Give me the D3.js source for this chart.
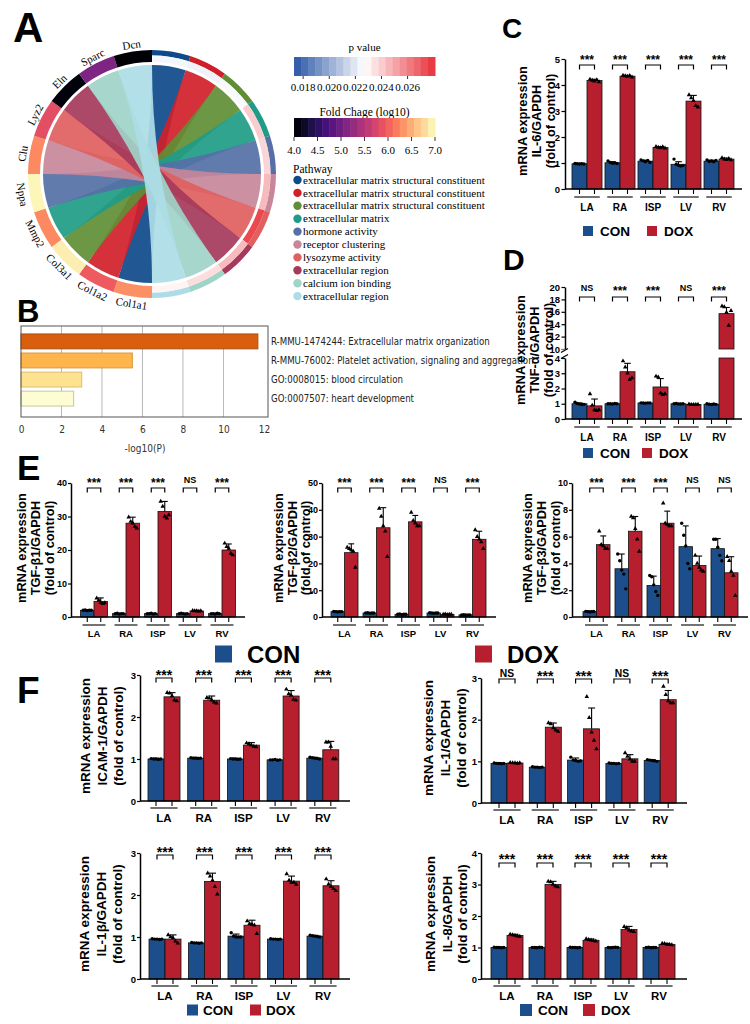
<!DOCTYPE html>
<html><head><meta charset="utf-8">
<script src="https://cdn.jsdelivr.net/npm/d3@7"></script>
<style>body{margin:0;background:#fff} svg{display:block}</style>
</head><body>
<svg id="fig" width="750" height="1024"></svg>
<script>
// ---------------- DATA ----------------
// Panel A (chord)
const genes = ["Col1a1","Col1a2","Col3a1","Mmp2","Nppa","Clu","Lyz2","Eln","Sparc","Dcn"];
const geneFC = [6.3,5.95,6.9,6.25,6.95,6.25,5.85,4.08,5.1,4.02];
const pathwayNames = ["extracellular matrix structural constituent","extracellular matrix structural constituent","extracellular matrix structural constituent","extracellular matrix","hormone activity","receptor clustering","lysozyme activity","extracellular region","calcium ion binding","extracellular region"];
const pathwayP = [0.0224,0.0223,0.0225,0.0240,0.0238,0.0245,0.0275,0.0245,0.0236,0.0230];
const geneLinks = [0,1,2,3,4,5,6,7,8,9];
const fcTicks = [4.0,4.5,5.0,5.5,6.0,6.5,7.0];
const pTicks = [0.018,0.020,0.022,0.024,0.026];
// Panel B
const bTerms = ["R-MMU-1474244: Extracellular matrix organization","R-MMU-76002: Platelet activation, signaling and aggregation","GO:0008015: blood circulation","GO:0007507: heart development"];
const bValues = [11.7,5.5,3.0,2.6];
const bTicks = [0,2,4,6,8,10,12];
// Bar charts
const tissues = ["LA","RA","ISP","LV","RV"];
const groupNames = ["CON","DOX"];
// C IL-6
const il6Con = [0.97,1.01,1.07,0.95,1.07];
const il6ConErr = [0.02,0.04,0.04,0.1,0.04];
const il6Dox = [4.17,4.34,1.6,3.38,1.15];
const il6DoxErr = [0.05,0.03,0.03,0.22,0.04];
const il6ConPts = [[0.98,0.97,0.96,0.97,0.96],[1.08,1.02,0.99,1.0,0.98],[1.12,1.08,1.05,1.1,1.02],[1.15,0.95,0.9,0.88,0.9],[1.12,1.06,1.08,1.05,1.1]];
const il6DoxPts = [[4.22,4.18,4.15,4.2,4.12],[4.37,4.35,4.33,4.36,4.3],[1.63,1.6,1.58,1.62,1.57],[3.62,3.5,3.4,3.2,3.15],[1.2,1.15,1.13,1.17,1.12]];
const il6Sig = ["***","***","***","***","***"];
const il6Ticks = [0,1,2,3,4,5];
// D TNF-a (broken axis)
const tnfCon = [1.0,1.0,1.05,1.0,0.97];
const tnfConErr = [0.05,0.02,0.03,0.03,0.04];
const tnfDox = [0.86,3.1,2.1,0.95,15.7];
const tnfDoxErr = [0.45,0.55,0.55,0.03,1.0];
const tnfConPts = [[1.1,1.02,0.98,0.95,0.96],[1.0,1.0,0.98,1.02,1.0],[1.06,1.05,1.04,1.06,1.05],[1.0,1.02,0.99,0.98,1.0],[1.0,0.97,0.95,0.98,0.96]];
const tnfDoxPts = [[1.65,0.9,0.6,0.55,0.6],[3.8,3.4,3.0,2.6,2.7],[2.8,2.75,1.7,1.6,1.65],[0.97,0.95,0.94,0.95,0.96],[16.9,16.8,15.9,13.8,16.2]];
const tnfSig = ["NS","***","***","NS","***"];
const tnfLowTicks = [0,1,2,3,4];
const tnfHighTicks = [10,12,14,16,18,20];
// E1 TGF-b1
const tgf1Con = [2.0,1.0,1.0,1.0,1.0];
const tgf1ConErr = [0.1,0.05,0.05,0.05,0.05];
const tgf1Dox = [4.6,28,31.5,1.8,20];
const tgf1DoxErr = [1.1,1.8,3.0,0.15,1.8];
const tgf1ConPts = [[2.0,2.1,1.9,2.0,2.0],[1.0,1.1,0.9,1.0,1.0],[1.0,1.0,1.1,0.9,1.0],[1.0,1.1,1.0,0.9,1.0],[1.0,1.0,0.9,1.1,1.0]];
const tgf1DoxPts = [[5.6,5.0,4.3,4.0,4.2],[29.8,28.5,28,27,26.5],[34.5,33,30,29.5,30.5],[1.9,1.8,1.8,1.7,1.8],[22,21,20.5,19,18.5]];
const tgf1Sig = ["***","***","***","NS","***"];
const tgf1Ticks = [0,10,20,30,40];
// E2 TGF-b2
const tgf2Con = [2.0,1.5,1.0,1.5,0.8];
const tgf2ConErr = [0.2,0.1,0.1,0.15,0.05];
const tgf2Dox = [24,33.3,35.5,1.0,29];
const tgf2DoxErr = [3.3,7.5,2.4,0.1,3.0];
const tgf2ConPts = [[2.1,2.0,1.9,2.0,2.0],[1.5,1.6,1.4,1.5,1.5],[1.0,1.1,0.9,1.0,1.0],[1.6,1.5,1.4,1.5,1.5],[0.8,0.85,0.75,0.8,0.8]];
const tgf2DoxPts = [[26,25.5,25,24.5,18.5],[40.5,37.5,34,32,22.5],[39,36,35,34,34],[1.0,1.1,0.9,1.0,1.0],[32.5,30,29,28,25.5]];
const tgf2Sig = ["***","***","***","NS","***"];
const tgf2Ticks = [0,10,20,30,40,50];
// E3 TGF-b3
const tgf3Con = [0.4,3.6,2.35,5.25,5.1];
const tgf3ConErr = [0.05,1.1,0.7,1.55,0.75];
const tgf3Dox = [5.4,6.4,7.0,3.85,3.3];
const tgf3DoxErr = [0.65,1.1,0.9,0.7,1.2];
const tgf3ConPts = [[0.42,0.4,0.38,0.4,0.41],[4.7,4.2,3.5,3.2,2.1],[3.1,3.0,2.4,1.9,1.6],[7.0,6.1,5.3,4.0,3.6],[5.8,5.8,5.2,4.6,4.2]];
const tgf3DoxPts = [[6.4,5.4,5.3,5.1,5.1],[7.5,7.4,6.6,5.8,4.9],[8.5,7.0,6.9,6.8,6.8],[4.6,4.0,3.7,3.5,3.4],[4.5,4.2,3.4,3.1,1.6]];
const tgf3Sig = ["***","***","***","NS","NS"];
const tgf3Ticks = [0,2,4,6,8,10];
// F1 ICAM-1
const icamCon = [1.0,1.02,1.0,0.98,1.02];
const icamConErr = [0.02,0.02,0.02,0.01,0.02];
const icamDox = [2.48,2.4,1.33,2.5,1.22];
const icamDoxErr = [0.1,0.1,0.06,0.13,0.2];
const icamConPts = [[1.01,1.0,1.0,0.99,1.0],[1.03,1.02,1.02,1.01,1.02],[1.01,1.0,1.0,0.99,1.0],[0.98,0.98,0.99,0.97,0.98],[1.04,1.03,1.02,1.01,1.0]];
const icamDoxPts = [[2.58,2.57,2.5,2.4,2.38],[2.46,2.45,2.4,2.35,2.33],[1.38,1.36,1.33,1.3,1.29],[2.66,2.55,2.52,2.42,2.4],[1.4,1.4,1.3,1.0,1.0]];
const icamSig = ["***","***","***","***","***"];
const icamTicks = [0,1,2,3];
// F2 IL-1
const il1Con = [0.95,0.86,1.03,0.95,1.02];
const il1ConErr = [0.02,0.01,0.05,0.01,0.02];
const il1Dox = [0.96,1.82,1.78,1.06,2.48];
const il1DoxErr = [0.01,0.1,0.5,0.1,0.22];
const il1ConPts = [[0.96,0.95,0.95,0.94,0.95],[0.87,0.86,0.86,0.85,0.86],[1.1,1.03,1.02,1.0,1.01],[0.96,0.95,0.95,0.94,0.95],[1.04,1.03,1.02,1.01,1.0]];
const il1DoxPts = [[0.97,0.96,0.96,0.95,0.96],[1.92,1.9,1.8,1.75,1.72],[2.55,2.05,1.7,1.5,1.3],[1.2,1.12,1.05,1.0,1.0],[2.8,2.6,2.45,2.4,2.4]];
const il1Sig = ["NS","***","***","NS","***"];
const il1Ticks = [0,1,2,3];
// F3 IL-1b
const il1bCon = [0.95,0.86,1.02,0.95,1.02];
const il1bConErr = [0.01,0.01,0.05,0.01,0.02];
const il1bDox = [0.95,2.32,1.28,2.33,2.22];
const il1bDoxErr = [0.1,0.2,0.12,0.12,0.12];
const il1bConPts = [[0.96,0.95,0.95,0.94,0.95],[0.87,0.86,0.86,0.85,0.86],[1.1,1.02,1.0,1.0,1.0],[0.96,0.95,0.95,0.94,0.95],[1.04,1.03,1.02,1.01,1.0]];
const il1bDoxPts = [[1.05,1.0,0.98,0.9,0.85],[2.52,2.45,2.35,2.2,2.02],[1.38,1.32,1.3,1.28,1.08],[2.5,2.35,2.3,2.3,2.25],[2.38,2.26,2.2,2.15,2.1]];
const il1bSig = ["***","***","***","***","***"];
const il1bTicks = [0,1,2,3];
// F4 IL-8
const il8Con = [1.0,1.0,1.0,1.0,1.0];
const il8ConErr = [0.02,0.02,0.02,0.02,0.02];
const il8Dox = [1.38,3.0,1.23,1.57,1.1];
const il8DoxErr = [0.04,0.1,0.04,0.1,0.03];
const il8ConPts = [[1.01,1.0,1.0,0.99,1.0],[1.0,1.0,0.99,1.01,1.0],[1.01,1.0,1.0,0.99,1.0],[1.0,0.99,1.0,1.01,1.0],[1.0,1.01,0.99,1.0,1.0]];
const il8DoxPts = [[1.42,1.4,1.38,1.36,1.35],[3.1,3.08,3.0,2.95,2.92],[1.27,1.25,1.23,1.22,1.2],[1.66,1.62,1.55,1.52,1.5],[1.13,1.12,1.1,1.09,1.08]];
const il8Sig = ["***","***","***","***","***"];
const il8Ticks = [0,1,2,3,4];

// ---------------- STYLE ----------------
const SANS = "'Liberation Sans', Arial, Helvetica, sans-serif";
const SERIF = "'Liberation Serif', 'Times New Roman', serif";
const NARROW = "'Liberation Sans Narrow', 'DejaVu Sans Condensed', 'Arial Narrow', sans-serif";
const CON_COL = "#1d4e8c", DOX_COL = "#b71f2f";
const pathwayColors = ["#0e4a8a","#d11f2a","#5f8e34","#1f9c87","#5470a6","#c7879a","#e0605f","#a63a5b","#9fd4c8","#acdde6"];
const bColors = ["#d95f0e","#fdb54c","#fee290","#fefcd2"];
const bStroke = ["#a8500f","#d99a3a","#d8c070","#c9c79a"];

const svg = d3.select("#fig");

// ---------------- Panel letters ----------------
[["A",13,42,42],["B",17,322,31],["C",502,38,28],["D",503,270,30],["E",17,480,35],["F",17,703,37]].forEach(([t,x,y,s])=>{
  svg.append("text").attr("x",x).attr("y",y).text(t)
    .attr("font-family",SANS).attr("font-weight","bold").attr("font-size",s);
});

// ---------------- Panel A chord ----------------
(function(){
  const cx=152, cy=174, R=124, rIn=112, rMid=118.5, rRib=109;
  const g = svg.append("g").attr("transform",`translate(${cx},${cy})`);
  const step = Math.PI/genes.length;
  const fcColor = v => d3.interpolateMagma(Math.max(0,Math.min(1,(v-4)/3)));
  const pColor = d3.scaleLinear().domain([0.0173,0.0227,0.0281]).range(["#2a57a6","#ffffff","#e8313a"]).clamp(true);
  const arc = d3.arc();
  const geneA = i => ({s: Math.PI + i*step, e: Math.PI + (i+1)*step});
  const pathA = j => ({s: j*step, e: (j+1)*step});
  const ribbon = d3.ribbon().radius(rRib);
  geneLinks.forEach((j,i)=>{
    const a = geneA(i), b = pathA(j);
    g.append("path").attr("d", ribbon({source:{startAngle:a.s,endAngle:a.e}, target:{startAngle:b.s,endAngle:b.e}}))
      .attr("fill", pathwayColors[j]).attr("fill-opacity",0.92);
  });
  genes.forEach((name,i)=>{
    const a = geneA(i);
    g.append("path").attr("d", arc({innerRadius:rIn,outerRadius:R,startAngle:a.s,endAngle:a.e})).attr("fill", fcColor(geneFC[i]));
    const mid = (a.s+a.e)/2;
    const deg = mid*180/Math.PI;
    const px = Math.sin(mid)*(R+3), py = -Math.cos(mid)*(R+3);
    const bottom = Math.cos(mid) < 0;
    g.append("text").attr("transform",`translate(${px},${py}) rotate(${bottom? deg-180 : deg})`)
      .attr("text-anchor","middle").attr("dominant-baseline", bottom? "hanging":"auto")
      .attr("font-family",SERIF).attr("font-size",11).text(name);
  });
  pathwayNames.forEach((p,j)=>{
    const a = pathA(j);
    g.append("path").attr("d", arc({innerRadius:rMid,outerRadius:R,startAngle:a.s,endAngle:a.e})).attr("fill", pathwayColors[j]);
    g.append("path").attr("d", arc({innerRadius:rIn,outerRadius:rMid,startAngle:a.s,endAngle:a.e})).attr("fill", pColor(pathwayP[j]));
  });

  const L = svg.append("g").attr("font-family",SERIF);
  const bx0=294, bx1=435;
  const pScale = d3.scaleLinear().domain([0.0173,0.0281]).range([bx0,bx1]);
  L.append("text").attr("x",(bx0+bx1)/2).attr("y",51).attr("text-anchor","middle").attr("font-size",11).text("p value");
  const nB = 20;
  d3.range(nB).forEach(k=>{
    const v0 = pScale.invert(bx0 + (bx1-bx0)*k/nB), v1 = pScale.invert(bx0 + (bx1-bx0)*(k+1)/nB);
    L.append("rect").attr("x",pScale(v0)).attr("y",57).attr("width",pScale(v1)-pScale(v0)+0.5).attr("height",19).attr("fill",pColor((v0+v1)/2));
  });
  pTicks.forEach(t=>{
    L.append("line").attr("x1",pScale(t)).attr("x2",pScale(t)).attr("y1",76).attr("y2",79).attr("stroke","#000").attr("stroke-width",0.8);
    L.append("text").attr("x",pScale(t)).attr("y",91).attr("text-anchor","middle").attr("font-size",11).text(t.toFixed(3));
  });
  const fScale = d3.scaleLinear().domain([4,7]).range([bx0,bx1]);
  L.append("text").attr("x",(bx0+bx1)/2).attr("y",116).attr("text-anchor","middle").attr("font-size",11.5).text("Fold Chage (log10)");
  d3.range(nB).forEach(k=>{
    const v0 = 4 + 3*k/nB, v1 = 4 + 3*(k+1)/nB;
    L.append("rect").attr("x",fScale(v0)).attr("y",118).attr("width",fScale(v1)-fScale(v0)+0.5).attr("height",19).attr("fill",fcColor((v0+v1)/2));
  });
  fcTicks.forEach(t=>{
    L.append("line").attr("x1",fScale(t)).attr("x2",fScale(t)).attr("y1",137).attr("y2",141).attr("stroke","#000").attr("stroke-width",0.8);
    L.append("text").attr("x",fScale(t)).attr("y",154).attr("text-anchor","middle").attr("font-size",11).text(t.toFixed(1));
  });
  L.append("text").attr("x",293).attr("y",173).attr("font-size",11.5).text("Pathway");
  pathwayNames.forEach((p,j)=>{
    const y = 180 + j*12.9;
    L.append("circle").attr("cx",297.5).attr("cy",y).attr("r",4.2).attr("fill",pathwayColors[j]);
    L.append("text").attr("x",303).attr("y",y+3.6).attr("font-size",11).text(p);
  });
})();

// ---------------- Panel B ----------------
(function(){
  const g = svg.append("g").attr("font-family",NARROW);
  const x = d3.scaleLinear().domain([0,12.2]).range([21,268]);
  const top=326, bot=417;
  const y = d3.scaleBand().domain(bTerms).range([333,407]).paddingInner(0.22).paddingOuter(0.05);
  bTicks.filter(t=>t>0 && t<12).forEach(t=>{
    g.append("line").attr("x1",x(t)).attr("x2",x(t)).attr("y1",top).attr("y2",bot).attr("stroke","#b8b8b8").attr("stroke-width",1);
  });
  bTerms.forEach((t,i)=>{
    g.append("rect").attr("x",x(0)).attr("y",y(t)).attr("width",x(bValues[i])-x(0)).attr("height",y.bandwidth())
      .attr("fill",bColors[i]).attr("stroke",bStroke[i]).attr("stroke-width",1);
    g.append("text").attr("x",271).attr("y",y(t)+y.bandwidth()/2).attr("dominant-baseline","central").attr("font-size",9.6).attr("fill","#222").text(t);
  });
  g.append("rect").attr("x",21).attr("y",top).attr("width",247).attr("height",bot-top).attr("fill","none").attr("stroke","#555").attr("stroke-width",1);
  const ax = g.append("g").attr("transform",`translate(0,${bot})`).call(d3.axisBottom(x).tickValues(bTicks).tickFormat(d3.format("d")).tickSize(0).tickPadding(9));
  ax.select(".domain").remove();
  ax.selectAll("text").attr("font-family",NARROW).attr("font-size",10).attr("fill","#333");
  g.append("text").attr("x",145).attr("y",452).attr("text-anchor","middle").attr("font-size",10).attr("fill","#333").text("-log10(P)");
})();

// ---------------- Bar chart helper ----------------
function drawBarChart(L, D){
  const g = svg.append("g").attr("font-family",SANS).attr("font-weight","bold");
  const n = tissues.length;
  const xc = d3.scaleLinear().domain([0,n-1]).range([L.g0, L.g0 + L.step*(n-1)]);
  let segs;
  if (D.broken){
    segs = [{s:d3.scaleLinear().domain([0,D.lowMax]).range([L.y0,L.lowTop]), ticks:D.lowTicks},
            {s:d3.scaleLinear().domain([D.highMin,D.max]).range([L.highBot,L.yTop]), ticks:D.highTicks}];
  } else segs = [{s:d3.scaleLinear().domain([0,D.max]).range([L.y0,L.yTop]), ticks:D.ticks}];
  const yv = v => (segs.length===1 || v<=D.lowMax) ? segs[0].s(v) : segs[1].s(Math.max(v,D.highMin));
  const bw = L.bw;
  const offs = [-0.3,-0.15,0,0.15,0.3];
  tissues.forEach((t,i)=>{
    [0,1].forEach(k=>{
      const mean = k? D.dox[i] : D.con[i];
      const err = k? D.doxErr[i] : D.conErr[i];
      const pts = k? D.doxPts[i] : D.conPts[i];
      const x0 = k? xc(i) : xc(i)-bw;
      const bc = x0 + bw/2;
      const col = k? DOX_COL : CON_COL;
      if (segs.length===2 && mean > D.lowMax){
        g.append("rect").attr("x",x0).attr("y",segs[0].s(D.lowMax)).attr("width",bw).attr("height",L.y0-segs[0].s(D.lowMax)).attr("fill",col).attr("stroke","#111").attr("stroke-width",0.8);
        g.append("rect").attr("x",x0).attr("y",yv(mean)).attr("width",bw).attr("height",L.highBot-yv(mean)).attr("fill",col).attr("stroke","#111").attr("stroke-width",0.8);
      } else {
        g.append("rect").attr("x",x0).attr("y",yv(mean)).attr("width",bw).attr("height",L.y0-yv(mean)).attr("fill",col).attr("stroke","#111").attr("stroke-width",0.8);
      }
      g.append("line").attr("x1",bc).attr("x2",bc).attr("y1",yv(mean)).attr("y2",yv(mean+err)).attr("stroke","#000").attr("stroke-width",1.1);
      g.append("line").attr("x1",bc-bw*0.22).attr("x2",bc+bw*0.22).attr("y1",yv(mean+err)).attr("y2",yv(mean+err)).attr("stroke","#000").attr("stroke-width",1.1);
      pts.forEach((p,m)=>{
        const px = bc + offs[m]*bw;
        if (k===0) g.append("circle").attr("cx",px).attr("cy",yv(p)).attr("r",L.pr||1.7).attr("fill","#000");
        else g.append("path").attr("transform",`translate(${px},${yv(p)})`).attr("d",d3.symbol().type(d3.symbolTriangle).size(L.ts||9)()).attr("fill","#000");
      });
      g.append("line").attr("x1",bc).attr("x2",bc).attr("y1",L.y0).attr("y2",L.y0+L.tk).attr("stroke","#000").attr("stroke-width",1.1);
    });
    g.append("line").attr("x1",xc(i)-bw*0.85).attr("x2",xc(i)+bw*0.85).attr("y1",L.y0+L.ul).attr("y2",L.y0+L.ul).attr("stroke","#000").attr("stroke-width",1.1);
    g.append("text").attr("x",xc(i)).attr("y",L.y0+L.xl).attr("text-anchor","middle").attr("font-size",L.fx).text(t);
    const b1 = xc(i)-bw/2, b2 = xc(i)+bw/2;
    g.append("path").attr("d",`M${b1},${L.brY+4.5}V${L.brY}H${b2}V${L.brY+4.5}`).attr("fill","none").attr("stroke","#000").attr("stroke-width",1.2);
    const s = D.sig[i];
    if (s==="NS") g.append("text").attr("x",xc(i)).attr("y",L.sigY+0.36*L.fns).attr("text-anchor","middle").attr("font-size",L.fns).text(s);
    else g.append("text").attr("x",xc(i)).attr("y",L.sigY+0.57*L.fst).attr("text-anchor","middle").attr("font-size",L.fst).text(s);
  });
  g.append("line").attr("x1",L.ax).attr("x2",L.axEnd).attr("y1",L.y0).attr("y2",L.y0).attr("stroke","#000").attr("stroke-width",1.5);
  segs.forEach(sg=>{
    const a = g.append("g").attr("transform",`translate(${L.ax},0)`)
      .call(d3.axisLeft(sg.s).tickValues(sg.ticks).tickFormat(d3.format("d")).tickSize(L.tsz||3.5).tickSizeOuter(0).tickPadding(L.tpd||1.5));
    a.attr("font-family",SANS).attr("font-weight","bold").attr("font-size",L.fy);
    a.select(".domain").attr("stroke-width",1.5);
    a.selectAll(".tick line").attr("stroke-width",1.2);
  });
  if (segs.length===2){
    g.append("rect").attr("x",L.ax-3).attr("y",L.highBot+0.5).attr("width",6).attr("height",L.lowTop-L.highBot-1).attr("fill","#fff");
    [L.highBot+1.5, L.lowTop-1.5].forEach(yy=>{
      g.append("line").attr("x1",L.ax-4).attr("x2",L.ax+3).attr("y1",yy+2).attr("y2",yy-2).attr("stroke","#000").attr("stroke-width",1.2);
    });
  }
  D.title.forEach((line,k)=>{
    g.append("text").attr("transform",`translate(${L.labX[k]},${L.labY}) rotate(-90)`).attr("text-anchor","middle")
      .attr("dominant-baseline","central").attr("font-size",L.fl).text(line);
  });
}

function legend(x1, x2, y, sq, fs, gap){
  const g = svg.append("g").attr("font-family",SANS).attr("font-weight","bold");
  [[x1,CON_COL,groupNames[0]],[x2,DOX_COL,groupNames[1]]].forEach(([x,c,t])=>{
    g.append("rect").attr("x",x).attr("y",y-sq/2).attr("width",sq).attr("height",sq).attr("fill",c);
    g.append("text").attr("x",x+sq+gap).attr("y",y).attr("dominant-baseline","central").attr("font-size",fs).text(t);
  });
}

const baseC = {tk:5, ul:8, xl:22, fx:10, fy:9.5, fl:12.8, fns:9, fst:12};
drawBarChart(Object.assign({},baseC,{ax:565,axEnd:742,y0:189,yTop:59,g0:587,step:33,bw:15,labX:[522,536,550],labY:121,sigY:57,brY:65}),
  {max:5,ticks:il6Ticks,con:il6Con,conErr:il6ConErr,dox:il6Dox,doxErr:il6DoxErr,conPts:il6ConPts,doxPts:il6DoxPts,sig:il6Sig,title:["mRNA expression","IL-6/GAPDH","(fold of control)"]});
legend(583,647,231,10,13.5,7);

drawBarChart(Object.assign({},baseC,{ax:565,axEnd:742,y0:419,yTop:287,lowTop:358,highBot:349,g0:587,step:33,bw:15,labX:[520,534,548],labY:350,sigY:288,brY:297}),
  {broken:true,lowMax:4,highMin:10,max:20,lowTicks:tnfLowTicks,highTicks:tnfHighTicks,con:tnfCon,conErr:tnfConErr,dox:tnfDox,doxErr:tnfDoxErr,conPts:tnfConPts,doxPts:tnfDoxPts,sig:tnfSig,title:["mRNA expression","TNF-α/GAPDH","(fold of control)"]});
legend(583,642,453,10,13.5,7);

const baseE = {tk:5, ul:8, xl:20, fx:9.5, fy:9, fl:12.8, fns:9, fst:12, y0:617, yTop:483, sigY:480, brY:488, bw:13.5, step:32, labY:548, tsz:3, tpd:1};
drawBarChart(Object.assign({},baseE,{ax:71,axEnd:245,g0:94,labX:[21,35,49]}),
  {max:40,ticks:tgf1Ticks,con:tgf1Con,conErr:tgf1ConErr,dox:tgf1Dox,doxErr:tgf1DoxErr,conPts:tgf1ConPts,doxPts:tgf1DoxPts,sig:tgf1Sig,title:["mRNA expression","TGF-β1/GAPDH","(fold of control)"]});
drawBarChart(Object.assign({},baseE,{ax:322,axEnd:496,g0:344.5,labX:[278,292,305]}),
  {max:50,ticks:tgf2Ticks,con:tgf2Con,conErr:tgf2ConErr,dox:tgf2Dox,doxErr:tgf2DoxErr,conPts:tgf2ConPts,doxPts:tgf2DoxPts,sig:tgf2Sig,title:["mRNA expression","TGF-β2/GAPDH","(fold of control)"]});
drawBarChart(Object.assign({},baseE,{ax:572,axEnd:748,g0:596.5,labX:[527,541,555]}),
  {max:10,ticks:tgf3Ticks,con:tgf3Con,conErr:tgf3ConErr,dox:tgf3Dox,doxErr:tgf3DoxErr,conPts:tgf3ConPts,doxPts:tgf3DoxPts,sig:tgf3Sig,title:["mRNA expression","TGF-β3/GAPDH","(fold of control)"]});
legend(215,475,654,17,24,15);

const baseF = {tk:5, ul:7, xl:21, fx:11.5, fy:9.5, fl:13.5, fns:10.3, fst:14, bw:16, tsz:3, tpd:1};
drawBarChart(Object.assign({},baseF,{ax:140,axEnd:350,y0:801,yTop:675,g0:164,step:39.7,labX:[85,102,118],labY:736,sigY:672,brY:678}),
  {max:3,ticks:icamTicks,con:icamCon,conErr:icamConErr,dox:icamDox,doxErr:icamDoxErr,conPts:icamConPts,doxPts:icamDoxPts,sig:icamSig,title:["mRNA expression","ICAM-1/GAPDH","(fold of control)"]});
drawBarChart(Object.assign({},baseF,{ax:481,axEnd:687,y0:803,yTop:678,g0:507,step:38.3,labX:[428,445,461],labY:738,sigY:673,brY:679}),
  {max:3,ticks:il1Ticks,con:il1Con,conErr:il1ConErr,dox:il1Dox,doxErr:il1DoxErr,conPts:il1ConPts,doxPts:il1DoxPts,sig:il1Sig,title:["mRNA expression","IL-1/GAPDH","(fold of control)"]});
drawBarChart(Object.assign({},baseF,{ax:140,axEnd:350,y0:979,yTop:853,g0:165,step:39.5,labX:[84,101,117],labY:914,sigY:849,brY:855}),
  {max:3,ticks:il1bTicks,con:il1bCon,conErr:il1bConErr,dox:il1bDox,doxErr:il1bDoxErr,conPts:il1bConPts,doxPts:il1bDoxPts,sig:il1bSig,title:["mRNA expression","IL-1β/GAPDH","(fold of control)"]});
drawBarChart(Object.assign({},baseF,{ax:481,axEnd:687,y0:979,yTop:853,g0:507,step:38,labX:[430,447,462],labY:914,sigY:856,brY:863}),
  {max:4,ticks:il8Ticks,con:il8Con,conErr:il8ConErr,dox:il8Dox,doxErr:il8DoxErr,conPts:il8ConPts,doxPts:il8DoxPts,sig:il8Sig,title:["mRNA expression","IL-8/GAPDH","(fold of control)"]});
legend(187,250,1010,11,13.5,5);
legend(520,583,1010,12,13.5,6);
</script>
</body></html>
